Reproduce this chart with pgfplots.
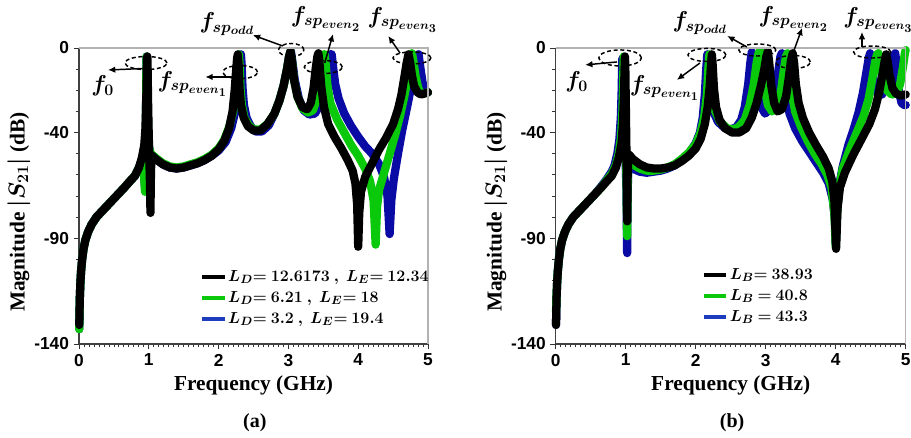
\documentclass[border=0pt]{standalone}
\usepackage{pgfplots}
\pgfplotsset{compat=1.18}
\usetikzlibrary{arrows.meta}
\usepackage{fontspec}
\setmainfont{Liberation Serif}
\setsansfont{Liberation Sans}
\DeclareMathSizes{16}{16}{12}{9.5}
\DeclareMathSizes{12}{12}{9}{7}
\definecolor{cgreen}{RGB}{10,200,10}
\definecolor{cblue}{RGB}{10,10,165}
\definecolor{lblue}{RGB}{30,60,190}
\tikzset{
  ann/.style={dash pattern=on 3pt off 2pt, line width=1.1pt},
  arr/.style={-{Latex[length=5.5pt,width=5pt]}, line width=1.1pt},
  lab/.style={font=\fontsize{16}{16}\selectfont\boldmath},
}
\pgfplotsset{
  myaxis/.style={
    scale only axis, height=222pt,
    xmin=0, xmax=5, ymin=-140, ymax=0,
    axis x line*=bottom, axis y line*=left,
    xtick={0,1,2,3,4,5}, xticklabels={0,1,2,3,4,5},
    ytick={-140,-90,-40,0}, yticklabels={-140,-90,-40,0},
    minor x tick num=13,
    minor ytick={-130,-120,-110,-100,-80,-70,-60,-50,-30,-20,-10},
    tick align=outside,
    major tick length=4pt, minor tick length=2.5pt,
    every tick/.style={black!80, line width=0.6pt},
    axis line style={draw=black!75, line width=0.8pt},
    ticklabel style={font=\sffamily\bfseries\fontsize{13}{13}\selectfont},
    xlabel={Frequency (GHz)},
    ylabel={Magnitude {\boldmath$|S_{21}|$} (dB)},
    label style={font=\rmfamily\bfseries\fontsize{16}{16}\selectfont},
    xlabel style={at={(axis description cs:0.5,-0.1385)}, anchor=center},
    clip=false,
    legend cell align=left,
    legend image code/.code={\draw[#1, line width=3pt] (0pt,0pt) -- (17pt,0pt);},
  },
  crv/.style={line width=6.2pt, line join=round, line cap=round, mark=none, forget plot},
}
\begin{document}
\begin{tikzpicture}
\useasboundingbox (0,0) rectangle (683.25pt,328.5pt);
% ---------------- panel (a)
\begin{axis}[myaxis, at={(59.25pt,70.5pt)}, anchor=south west, width=261.75pt,
  ylabel style={at={(axis description cs:-0.172,0.446)}, anchor=center},
  legend style={draw=none, fill=none, at={(axis description cs:0.335,0.271)}, anchor=north west,
    font=\fontsize{12}{12}\selectfont\boldmath,
    nodes={inner sep=1pt, text height=10pt, text depth=3.75pt}, row sep=0pt}]
\addlegendimage{black}
\addlegendentry{$L_D{=}\ 12.6173\ ,\ L_E{=}\ 12.34$}
\addlegendimage{cgreen}
\addlegendentry{$L_D{=}\ 6.21\ ,\ L_E{=}\ 18$}
\addlegendimage{lblue}
\addlegendentry{$L_D{=}\ 3.2\ ,\ L_E{=}\ 19.4$}
% blue
\addplot[crv, cblue] coordinates {
(0.004,-133)(0.008,-125)(0.012,-118)(0.02,-111)(0.03,-105.5)(0.045,-100)(0.065,-95)(0.09,-91)(0.13,-87)(0.18,-83.5)(0.25,-80)(0.35,-76.5)(0.45,-73)(0.55,-69.5)(0.65,-66)(0.73,-63)(0.8,-60.5)(0.86,-56.5)
(0.9,-53)(0.93,-58)(0.945,-66)(0.952,-56)(0.958,-40)(0.962,-24)(0.966,-10)(0.969,-4)(0.973,-10)(0.98,-25)(0.99,-38)(1.0,-46)(1.02,-50)(1.05,-51)(1.1,-52.5)(1.2,-55)(1.3,-56.5)(1.4,-57)(1.5,-56.5)(1.6,-55.5)(1.7,-54.5)(1.8,-53)(1.9,-51)(2.0,-48.5)(2.1,-44.5)(2.18,-38)(2.24,-30)(2.275,-20)(2.295,-11)(2.31,-5)(2.32,-3)(2.33,-8)(2.343,-19)(2.363,-27)(2.4,-33)(2.46,-37)(2.53,-39.5)(2.62,-39.5)(2.72,-36.5)(2.8,-31)(2.87,-25)(2.93,-18)(2.98,-10)(3.01,-4)(3.035,-1.5)(3.055,-6)(3.09,-15)(3.15,-24)(3.22,-29.5)(3.3,-31.5)(3.38,-31)(3.45,-27)(3.5,-20)(3.54,-12)(3.57,-6)(3.6,-3)(3.62,-3)(3.64,-9)(3.67,-17)(3.72,-24)(3.8,-31)(3.9,-37)(4.0,-42)(4.1,-46.5)(4.2,-50)(4.3,-55)(4.37,-61)(4.42,-70)(4.45,-88)(4.475,-72)(4.51,-62)(4.57,-50)(4.63,-39)(4.7,-28)(4.76,-18)(4.81,-9)(4.845,-3.5)(4.865,-3)(4.885,-8)(4.92,-16)(4.96,-20)(5.0,-21)
};
% green
\addplot[crv, cgreen] coordinates {
(0.004,-133)(0.008,-125)(0.012,-118)(0.02,-111)(0.03,-105.5)(0.045,-100)(0.065,-95)(0.09,-91)(0.13,-87)(0.18,-83.5)(0.25,-80)(0.35,-76.5)(0.45,-73)(0.55,-69.5)(0.65,-66)(0.73,-63)(0.8,-60.5)(0.86,-56.5)
(0.9,-53)(0.93,-58)(0.945,-68)(0.952,-58)(0.958,-42)(0.962,-25)(0.966,-10)(0.969,-4)(0.973,-10)(0.98,-25)(0.99,-38)(1.0,-46)(1.02,-50)(1.05,-50.5)(1.1,-52)(1.2,-54.5)(1.3,-56)(1.4,-56.5)(1.5,-56)(1.6,-55)(1.7,-54)(1.8,-52.5)(1.9,-50.5)(2.0,-47.5)(2.08,-43.5)(2.15,-37.5)(2.21,-30)(2.245,-20)(2.265,-11)(2.28,-5)(2.29,-3)(2.3,-8)(2.313,-19)(2.333,-27)(2.37,-33)(2.43,-36.5)(2.5,-38.5)(2.6,-38.5)(2.7,-36)(2.8,-31)(2.87,-25)(2.93,-18)(2.98,-10)(3.01,-4)(3.03,-1.5)(3.05,-6)(3.08,-15)(3.13,-23)(3.2,-28.5)(3.28,-30.5)(3.35,-29.5)(3.41,-24)(3.45,-15)(3.48,-7)(3.505,-3)(3.52,-3)(3.535,-8)(3.56,-18)(3.6,-26)(3.7,-34)(3.8,-40)(3.9,-46)(4.0,-51)(4.1,-57)(4.17,-63)(4.22,-72)(4.25,-93)(4.27,-75)(4.3,-67)(4.38,-58)(4.46,-49)(4.53,-41)(4.6,-32)(4.66,-23)(4.71,-14)(4.745,-6)(4.77,-2.5)(4.79,-6)(4.82,-13)(4.86,-19)(4.9,-21.5)(4.95,-21.5)(5.0,-21)
};
% black
\addplot[crv, black] coordinates {
(0.004,-131)(0.008,-124)(0.012,-118)(0.02,-111)(0.03,-105.5)(0.045,-100)(0.065,-95)(0.09,-91)(0.13,-87)(0.18,-83.5)(0.25,-80)(0.35,-76.5)(0.45,-73)(0.55,-69.5)(0.65,-66)(0.73,-63)(0.8,-60.5)(0.86,-56.5)
(0.9,-52)(0.935,-46)(0.952,-38)(0.963,-26)(0.97,-13)(0.975,-5)(0.979,-4)(0.983,-10)(0.99,-26)(0.998,-40)(1.006,-50)(1.014,-60)(1.02,-70)(1.024,-78)(1.028,-64)(1.035,-54)(1.05,-51)(1.1,-52.5)(1.2,-55)(1.3,-56.5)(1.4,-57)(1.5,-56.5)(1.6,-55.5)(1.7,-54.5)(1.8,-53)(1.9,-51)(2.0,-48)(2.08,-44)(2.15,-38)(2.2,-30)(2.23,-20)(2.25,-11)(2.265,-5)(2.275,-3)(2.287,-8)(2.3,-19)(2.32,-27)(2.36,-33)(2.42,-37)(2.5,-39)(2.6,-39)(2.7,-36)(2.8,-31)(2.87,-25)(2.93,-18)(2.98,-10)(3.01,-4)(3.03,-1.5)(3.05,-6)(3.08,-15)(3.13,-23)(3.2,-28)(3.27,-29)(3.32,-26)(3.36,-19)(3.39,-10)(3.415,-4)(3.43,-2.5)(3.445,-7)(3.47,-18)(3.51,-28)(3.57,-36)(3.66,-42)(3.76,-47.5)(3.85,-53)(3.92,-58)(3.96,-64)(3.985,-74)(4.0,-94)(4.015,-78)(4.04,-68)(4.1,-61)(4.2,-54.5)(4.3,-48)(4.4,-42.5)(4.5,-36)(4.57,-29)(4.62,-22)(4.66,-14)(4.695,-7)(4.72,-3)(4.745,-7)(4.77,-13)(4.8,-18)(4.85,-21)(4.9,-22)(4.95,-21.5)(5.0,-21)
};
\draw[gray!60, line width=0.8pt] (rel axis cs:0,1) -- (rel axis cs:1,1) -- (rel axis cs:1,0);
% annotations
\draw[ann] (axis cs:0.96,-7.1) ellipse [x radius=15.75pt, y radius=4.9pt];
\draw[arr] (axis cs:0.92,-9.7) -- (axis cs:0.415,-10.4);
\node[lab] at (axis cs:0.34,-18) {$f_0$};
\draw[ann] (axis cs:2.31,-11.4) ellipse [x radius=13pt, y radius=4.9pt];
\draw[arr] (axis cs:2.21,-13.7) -- (axis cs:1.81,-13.7);
\node[lab] at (axis cs:1.63,-17) {$f_{sp_{even_1}}$};
\draw[ann] (axis cs:3.04,-0.95) ellipse [x radius=9.5pt, y radius=4.9pt];
\draw[arr] (axis cs:2.92,0.95) -- (axis cs:2.49,6.1);
\node[lab] at (axis cs:2.12,11.4) {$f_{sp_{odd}}$};
\draw[ann] (axis cs:3.50,-9.0) ellipse [x radius=14.25pt, y radius=4.9pt];
\draw[arr] (axis cs:3.52,-7.1) -- (axis cs:3.64,6.6);
\node[lab] at (axis cs:3.54,13.7) {$f_{sp_{even_2}}$};
\draw[ann] (axis cs:4.77,-4.7) ellipse [x radius=14.25pt, y radius=4.5pt];
\draw[arr] (axis cs:4.6,-2.4) -- (axis cs:4.43,5.7);
\node[lab] at (axis cs:4.64,13.2) {$f_{sp_{even_3}}$};
\node[font=\rmfamily\bfseries\fontsize{15}{15}\selectfont] at (axis description cs:0.504,-0.267) {(a)};
\end{axis}
% ---------------- panel (b)
\begin{axis}[myaxis, at={(416.8pt,70.5pt)}, anchor=south west, width=262.5pt,
  ylabel style={at={(axis description cs:-0.171,0.446)}, anchor=center},
  legend style={draw=none, fill=none, at={(axis description cs:0.405,0.278)}, anchor=north west,
    font=\fontsize{12}{12}\selectfont\boldmath,
    nodes={inner sep=1pt, text height=10pt, text depth=3.75pt}, row sep=0pt}]
\addlegendimage{black}
\addlegendentry{$L_B{=}\ 38.93$}
\addlegendimage{cgreen}
\addlegendentry{$L_B\ {=}\ 40.8$}
\addlegendimage{lblue}
\addlegendentry{$L_B\ {=}\ 43.3$}
% blue
\addplot[crv, cblue] coordinates {
(0.004,-131)(0.008,-124)(0.012,-118)(0.02,-111)(0.03,-105.5)(0.045,-100)(0.065,-95)(0.09,-91)(0.13,-87)(0.18,-83.5)(0.25,-80)(0.35,-76.5)(0.45,-73)(0.55,-69.5)(0.65,-65.5)(0.73,-62)(0.8,-58.5)
(0.84,-55.5)(0.88,-50)(0.91,-43)(0.93,-33)(0.942,-20)(0.948,-9)(0.952,-5)(0.957,-10)(0.972,-32)(0.995,-50)(1.01,-66)(1.02,-97)(1.026,-70)(1.035,-58)(1.05,-55)(1.1,-57)(1.2,-58.5)(1.3,-59)(1.4,-58.5)(1.5,-58)(1.6,-57)(1.7,-55.5)(1.8,-53)(1.9,-50)(2.0,-45)(2.06,-40)(2.1,-33)(2.13,-22)(2.15,-10)(2.165,-3)(2.18,-10)(2.2,-22)(2.25,-30)(2.32,-35)(2.42,-38)(2.5,-38.5)(2.58,-37.5)(2.65,-34)(2.7,-28)(2.75,-17)(2.78,-7)(2.8,-2)(2.82,-6)(2.86,-18)(2.92,-27)(2.99,-31)(3.06,-29)(3.13,-21)(3.18,-11)(3.21,-4)(3.23,-2.5)(3.25,-8)(3.29,-22)(3.34,-31)(3.42,-38)(3.52,-44)(3.62,-49)(3.72,-54)(3.82,-59)(3.9,-64)(3.96,-72)(3.99,-82)(4.0,-93)(4.02,-78)(4.05,-65)(4.1,-56)(4.18,-46)(4.26,-38)(4.33,-30)(4.39,-21)(4.44,-11)(4.47,-5)(4.49,-2.5)(4.51,-7)(4.55,-17)(4.6,-22)(4.66,-22)(4.72,-18)(4.77,-10)(4.82,-4)(4.85,-2.5)(4.87,-8)(4.9,-20)(4.94,-26)(4.98,-27)(5.0,-27)
};
% green
\addplot[crv, cgreen] coordinates {
(0.004,-125)(0.008,-121)(0.012,-117)(0.02,-111)(0.03,-105.5)(0.045,-100)(0.065,-95)(0.09,-91)(0.13,-87)(0.18,-83.5)(0.25,-80)(0.35,-76.5)(0.45,-73)(0.55,-69.5)(0.65,-66)(0.73,-62.5)(0.8,-59.5)
(0.86,-55.5)(0.9,-50)(0.93,-43)(0.95,-33)(0.962,-19)(0.968,-8)(0.972,-4)(0.977,-9)(0.99,-30)(1.003,-48)(1.013,-66)(1.02,-89)(1.026,-66)(1.035,-56)(1.05,-53)(1.1,-55)(1.2,-57)(1.3,-58)(1.4,-58)(1.5,-57.5)(1.6,-56.5)(1.7,-55)(1.8,-52.5)(1.9,-49.5)(2.0,-45.5)(2.07,-40)(2.12,-33)(2.16,-22)(2.18,-10)(2.195,-3)(2.21,-10)(2.23,-21)(2.28,-30)(2.35,-35)(2.45,-38)(2.53,-38.5)(2.61,-37.5)(2.7,-34)(2.77,-27)(2.83,-17)(2.87,-7)(2.9,-2)(2.92,-1.5)(2.94,-6)(2.98,-18)(3.03,-27)(3.09,-30)(3.16,-28)(3.22,-20)(3.26,-10)(3.29,-4)(3.31,-2.5)(3.33,-8)(3.37,-21)(3.42,-30)(3.5,-37)(3.6,-44)(3.7,-50)(3.8,-55)(3.88,-60)(3.94,-66)(3.98,-78)(4.0,-94)(4.02,-78)(4.05,-66)(4.1,-57)(4.2,-48)(4.3,-40)(4.4,-32)(4.47,-24)(4.52,-15)(4.56,-7)(4.59,-3)(4.61,-2.5)(4.63,-7)(4.67,-15)(4.73,-20)(4.8,-22)(4.87,-21.5)(4.92,-17)(4.96,-9)(4.99,-2)(5.0,-1)
};
% black
\addplot[crv, black] coordinates {
(0.004,-131)(0.008,-124)(0.012,-118)(0.02,-111)(0.03,-105.5)(0.045,-100)(0.065,-95)(0.09,-91)(0.13,-87)(0.18,-83.5)(0.25,-80)(0.35,-76.5)(0.45,-73)(0.55,-69.5)(0.65,-66)(0.73,-63)(0.8,-60.5)(0.86,-56.5)
(0.9,-52)(0.94,-45)(0.96,-36)(0.975,-22)(0.984,-9)(0.989,-4)(0.994,-9)(1.0,-24)(1.008,-44)(1.015,-62)(1.021,-82)(1.026,-62)(1.035,-53)(1.05,-50.5)(1.1,-52.5)(1.2,-55)(1.3,-56.5)(1.4,-57)(1.5,-57)(1.6,-56.5)(1.7,-55.5)(1.8,-53.5)(1.9,-51)(2.0,-47.5)(2.07,-43)(2.13,-36)(2.17,-28)(2.2,-18)(2.218,-8)(2.23,-3)(2.242,-8)(2.26,-19)(2.29,-28)(2.34,-34)(2.42,-38)(2.52,-40)(2.62,-40)(2.72,-38)(2.8,-33)(2.87,-26)(2.93,-18)(2.98,-10)(3.01,-4)(3.03,-1.5)(3.05,-7)(3.08,-18)(3.12,-26)(3.17,-30)(3.23,-29)(3.29,-23)(3.33,-14)(3.36,-6)(3.385,-2.5)(3.405,-7)(3.43,-17)(3.47,-26)(3.53,-33)(3.62,-40)(3.72,-46)(3.82,-51.5)(3.9,-57)(3.95,-63)(3.98,-72)(4.005,-95)(4.025,-76)(4.06,-66)(4.13,-59)(4.25,-50.5)(4.37,-43)(4.48,-36)(4.56,-29)(4.62,-21)(4.67,-12)(4.7,-6)(4.72,-3)(4.74,-6)(4.77,-13)(4.81,-19)(4.86,-21.5)(4.92,-22.5)(5.0,-22)
};
\draw[gray!60, line width=0.8pt] (rel axis cs:0,1) -- (rel axis cs:1,1) -- (rel axis cs:1,0);
% annotations
\draw[ann] (axis cs:0.92,-4.7) ellipse [x radius=16pt, y radius=6pt];
\draw[arr] (axis cs:0.876,-6.6) -- (axis cs:0.42,-8);
\node[lab] at (axis cs:0.30,-16) {$f_0$};
\draw[ann] (axis cs:2.16,-3.3) ellipse [x radius=14.25pt, y radius=4.9pt];
\draw[arr] (axis cs:2.06,-7.1) -- (axis cs:1.73,-15.1);
\node[lab] at (axis cs:1.56,-18.9) {$f_{sp_{even_1}}$};
\draw[ann] (axis cs:2.88,-0.95) ellipse [x radius=13.9pt, y radius=4.5pt];
\draw[arr] (axis cs:2.73,0.5) -- (axis cs:2.45,5.7);
\node[lab] at (axis cs:2.06,11.8) {$f_{sp_{odd}}$};
\draw[ann] (axis cs:3.39,-6.6) ellipse [x radius=13pt, y radius=4.9pt];
\draw[arr] (axis cs:3.39,-2.4) -- (axis cs:3.52,9.5);
\node[lab] at (axis cs:3.40,13.7) {$f_{sp_{even_2}}$};
\draw[ann] (axis cs:4.52,-1.9) ellipse [x radius=13.9pt, y radius=4.5pt];
\draw[arr] (axis cs:4.375,0.5) -- (axis cs:4.375,7.6);
\node[lab] at (axis cs:4.61,13.2) {$f_{sp_{even_3}}$};
\node[font=\rmfamily\bfseries\fontsize{15}{15}\selectfont] at (axis description cs:0.504,-0.267) {(b)};
\end{axis}
\end{tikzpicture}
\end{document}
